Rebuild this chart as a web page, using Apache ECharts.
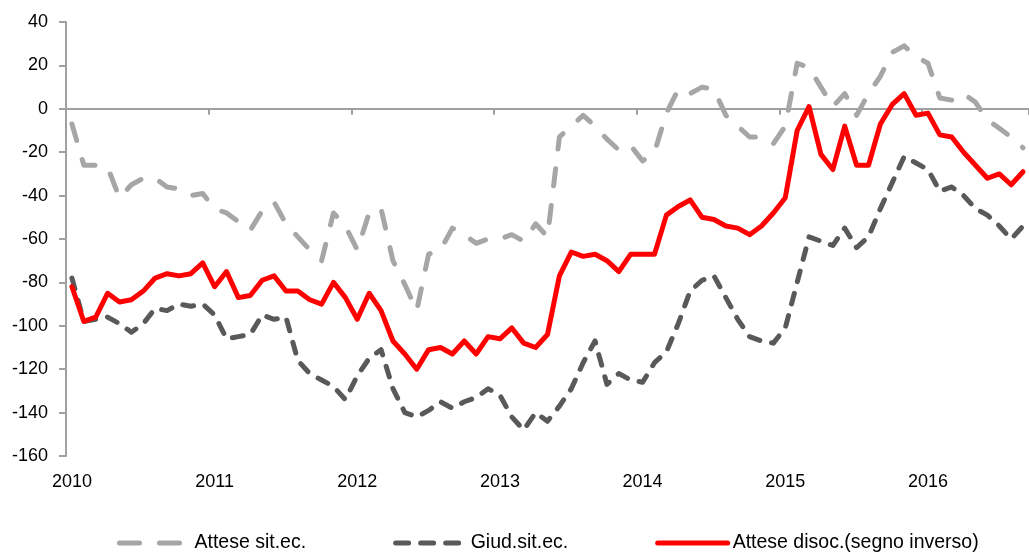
<!DOCTYPE html>
<html><head><meta charset="utf-8">
<script src="https://cdn.jsdelivr.net/npm/echarts@6/dist/echarts.min.js"></script>
<style>html,body{margin:0;padding:0;background:#fff}#c{width:1029px;height:556px}</style>
</head><body><div id="c"></div>
<script>
const categories = [
'2010-01','2010-02','2010-03','2010-04','2010-05','2010-06','2010-07','2010-08','2010-09','2010-10','2010-11','2010-12',
'2011-01','2011-02','2011-03','2011-04','2011-05','2011-06','2011-07','2011-08','2011-09','2011-10','2011-11','2011-12',
'2012-01','2012-02','2012-03','2012-04','2012-05','2012-06','2012-07','2012-08','2012-09','2012-10','2012-11','2012-12',
'2013-01','2013-02','2013-03','2013-04','2013-05','2013-06','2013-07','2013-08','2013-09','2013-10','2013-11','2013-12',
'2014-01','2014-02','2014-03','2014-04','2014-05','2014-06','2014-07','2014-08','2014-09','2014-10','2014-11','2014-12',
'2015-01','2015-02','2015-03','2015-04','2015-05','2015-06','2015-07','2015-08','2015-09','2015-10','2015-11','2015-12',
'2016-01','2016-02','2016-03','2016-04','2016-05','2016-06','2016-07','2016-08','2016-09'];
const yearLabels = ['2010','2011','2012','2013','2014','2015','2016'];
const seriesNames = ['Attese sit.ec.','Giud.sit.ec.','Attese disoc.(segno inverso)'];
const atteseSitEc = [
-7,-26,-26,-27,-41,-35,-32,-32,-36,-37,-40,-39,
-46,-48,-52,-56,-47,-43,-53,-59,-65,-70,-48,-54,
-65,-48,-46,-70,-81,-93,-67,-65,-55,-58,-62,-60,
-60,-58,-61,-53,-59,-13,-8,-3,-8,-14,-19,-17,
-24,-20,-2,9,7,10,9,-3,-8,-13,-13,-16,
-8,21,19,10,1,7,-3,7,15,26,29,24,
21,5,4,7,3,-5,-9,-13,-18];
const giudSitEc = [
-78,-98,-97,-96,-99,-103,-99,-92,-93,-90,-91,-90,
-95,-106,-105,-104,-95,-97,-96,-116,-122,-125,-128,-134,
-123,-115,-111,-129,-140,-142,-139,-135,-138,-135,-133,-129,
-132,-142,-148,-140,-144,-137,-129,-117,-107,-127,-122,-125,
-126,-117,-112,-99,-84,-79,-77,-87,-97,-105,-107,-108,
-101,-80,-59,-61,-63,-55,-64,-59,-46,-34,-22,-25,
-28,-38,-36,-40,-46,-49,-54,-60,-54];
const atteseDisoc = [
-82,-98,-96,-85,-89,-88,-84,-78,-76,-77,-76,-71,
-82,-75,-87,-86,-79,-77,-84,-84,-88,-90,-80,-87,
-97,-85,-93,-107,-113,-120,-111,-110,-113,-107,-113,-105,
-106,-101,-108,-110,-104,-77,-66,-68,-67,-70,-75,-67,
-67,-67,-49,-45,-42,-50,-51,-54,-55,-58,-54,-48,
-41,-10,1,-21,-28,-8,-26,-26,-7,2,7,-3,
-2,-12,-13,-20,-26,-32,-30,-35,-29];

const FONT = "'Liberation Sans', Arial, sans-serif";
const AXIS_GRAY = '#a0a0a0';
const COLORS = ['#a6a6a6', '#595959', '#ff0000'];
const chart = echarts.init(document.getElementById('c'), null, {renderer: 'canvas'});
chart.setOption({
  animation: false,
  backgroundColor: '#fff',
  grid: {left: 66, right: 0, top: 22, bottom: 100, containLabel: false},
  legend: {
    left: 112, top: 528,
    itemWidth: 70, itemHeight: 10, itemGap: 87,
    textStyle: {fontFamily: FONT, fontSize: 19.5, color: '#000'},
    itemStyle: {opacity: 0},
    lineStyle: {width: 5, cap: 'round'},
    data: [
      {name: seriesNames[0], lineStyle: {type: [20, 20], color: COLORS[0], width: 5, cap: 'round'}},
      {name: seriesNames[1], lineStyle: {type: [13, 12], color: COLORS[1], width: 5, cap: 'round'}},
      {name: seriesNames[2], lineStyle: {type: 'solid', color: COLORS[2], width: 5, cap: 'round'}}
    ]
  },
  xAxis: [{
    type: 'category', data: categories, boundaryGap: true,
    axisLine: {show: true, onZero: true, lineStyle: {color: AXIS_GRAY, width: 2}},
    axisTick: {show: true, interval: 11, length: 6, lineStyle: {color: AXIS_GRAY, width: 2}},
    axisLabel: {show: false}, splitLine: {show: false}
  }, {
    type: 'category', data: categories, boundaryGap: true, position: 'bottom',
    axisLine: {show: false, onZero: false}, axisTick: {show: false}, splitLine: {show: false},
    axisLabel: {show: true, interval: 11, margin: 17, color: '#000', fontFamily: FONT, fontSize: 18,
      formatter: (v, i) => yearLabels[Math.floor(i / 12)]}
  }],
  yAxis: {
    type: 'value', min: -160, max: 40, interval: 20,
    axisLine: {show: true, lineStyle: {color: AXIS_GRAY, width: 2}},
    axisTick: {show: true, length: 7, lineStyle: {color: AXIS_GRAY, width: 2}},
    axisLabel: {margin: 18, color: '#000', fontFamily: FONT, fontSize: 18},
    splitLine: {show: false}
  },
  series: [{
    name: seriesNames[0], type: 'line', data: atteseSitEc, symbol: 'none', xAxisIndex: 0,
    itemStyle: {color: COLORS[0]},
    lineStyle: {color: COLORS[0], width: 5, type: [17, 20], cap: 'round', join: 'round'}
  }, {
    name: seriesNames[1], type: 'line', data: giudSitEc, symbol: 'none', xAxisIndex: 0,
    itemStyle: {color: COLORS[1]},
    lineStyle: {color: COLORS[1], width: 5, type: [11, 12], cap: 'round', join: 'round'}
  }, {
    name: seriesNames[2], type: 'line', data: atteseDisoc, symbol: 'none', xAxisIndex: 0,
    itemStyle: {color: COLORS[2]},
    lineStyle: {color: COLORS[2], width: 5, cap: 'round', join: 'round'}
  }]
});
</script></body></html>
